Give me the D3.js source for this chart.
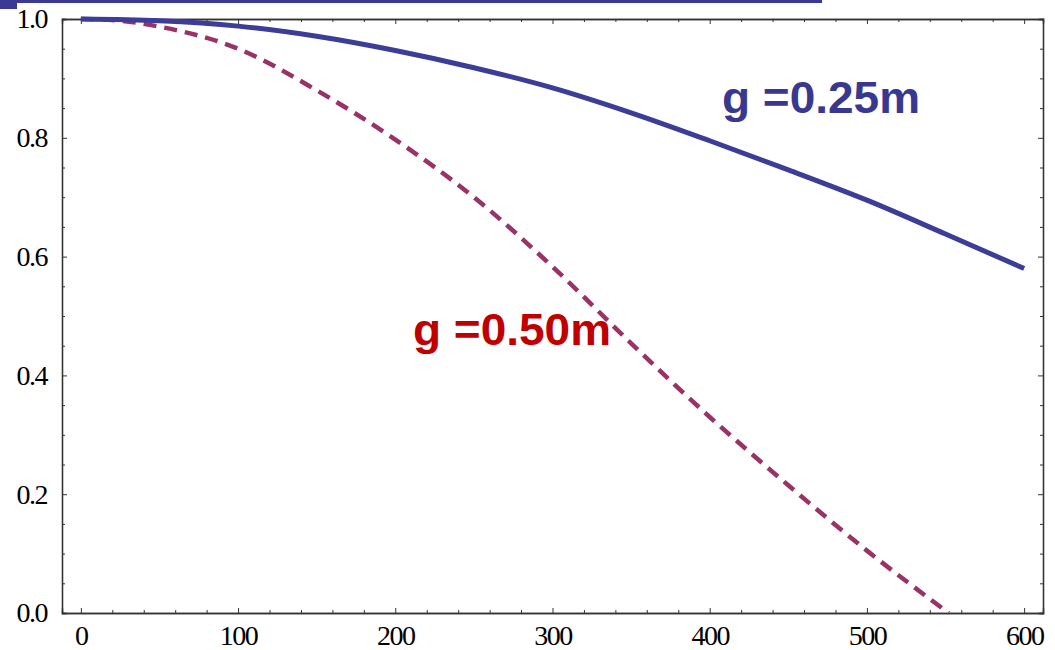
<!DOCTYPE html>
<html>
<head>
<meta charset="utf-8">
<script src="https://cdn.jsdelivr.net/npm/d3@7"></script>
<style>
  body { margin: 0; background: #fff; }
  svg { display: block; }
</style>
</head>
<body>
<div class="chart"></div>
<script>
const xs25 = [0, 50, 100, 150, 200, 250, 300, 350, 400, 450, 500, 550, 600]
const g25  = [1.0, 0.997, 0.988, 0.971, 0.947, 0.918, 0.884, 0.842, 0.795, 0.746, 0.695, 0.638, 0.58]
const xs50 = [0, 25, 50, 100, 150, 200, 250, 300, 350, 400, 450, 500, 552]
const g50  = [1.0, 0.997, 0.987, 0.95, 0.88, 0.797, 0.70, 0.583, 0.454, 0.33, 0.215, 0.105, 0.0]
const xMajor = [0, 100, 200, 300, 400, 500, 600]
const yMajor = [0, 0.2, 0.4, 0.6, 0.8, 1.0]
const labels = [
  { text: 'g =0.25m', x: 722, y: 113, color: '#383890' },
  { text: 'g =0.50m', x: 413, y: 345, color: '#c00000' }
]

const W = 1055, H = 650
const svg = d3.select('.chart').append('svg')
  .attr('width', W)
  .attr('height', H)

const x = d3.scaleLinear().domain([-12, 612]).range([62, 1043])
const y = d3.scaleLinear().domain([0, 1]).range([613, 19])

// slide decoration at the top
svg.append('rect').attr('x', 0).attr('y', 0).attr('width', 822).attr('height', 3).attr('fill', '#3a3a96')
svg.append('rect').attr('x', 0).attr('y', 0).attr('width', 17).attr('height', 9).attr('fill', '#3a3a96')

const xMinor = d3.range(0, 601, 20).filter(v => v % 100 !== 0)
const yMinor = d3.range(0, 1.001, 0.05).filter(v => Math.abs(v * 5 - Math.round(v * 5)) > 1e-6)

function styleAxis(g) {
  g.select('.domain').attr('stroke', '#333').attr('stroke-width', 1.3)
  g.selectAll('.tick line').attr('stroke', '#333').attr('stroke-width', 1)
  g.selectAll('text')
    .attr('font-family', '"Liberation Serif", "DejaVu Serif", serif')
    .attr('font-size', 28)
    .attr('letter-spacing', '-1.5px')
    .attr('fill', '#000')
}

// bottom
svg.append('g').attr('transform', `translate(0,${y(0)})`)
  .call(d3.axisBottom(x).tickValues(xMajor).tickSize(-5).tickPadding(12).tickFormat(d3.format('d')))
  .call(styleAxis)
svg.append('g').attr('transform', `translate(0,${y(0)})`)
  .call(d3.axisBottom(x).tickValues(xMinor).tickSize(-3).tickFormat(''))
  .call(styleAxis)
// top
svg.append('g').attr('transform', `translate(0,${y(1)})`)
  .call(d3.axisTop(x).tickValues(xMajor).tickSize(-5).tickFormat(''))
  .call(styleAxis)
svg.append('g').attr('transform', `translate(0,${y(1)})`)
  .call(d3.axisTop(x).tickValues(xMinor).tickSize(-3).tickFormat(''))
  .call(styleAxis)
// left
svg.append('g').attr('transform', `translate(${x(-12)},0)`)
  .call(d3.axisLeft(y).tickValues(yMajor).tickSize(-5).tickPadding(15).tickFormat(d3.format('.1f')))
  .call(styleAxis)
svg.append('g').attr('transform', `translate(${x(-12)},0)`)
  .call(d3.axisLeft(y).tickValues(yMinor).tickSize(-3).tickFormat(''))
  .call(styleAxis)
// right
svg.append('g').attr('transform', `translate(${x(612)},0)`)
  .call(d3.axisRight(y).tickValues(yMajor).tickSize(-5).tickFormat(''))
  .call(styleAxis)
svg.append('g').attr('transform', `translate(${x(612)},0)`)
  .call(d3.axisRight(y).tickValues(yMinor).tickSize(-3).tickFormat(''))
  .call(styleAxis)

const line = d3.line()
  .x(d => x(d[0]))
  .y(d => y(d[1]))
  .curve(d3.curveMonotoneX)

svg.append('path')
  .datum(xs50.map((v, i) => [v, g50[i]]))
  .attr('d', line)
  .attr('fill', 'none')
  .attr('stroke', '#993366')
  .attr('stroke-width', 4.5)
  .attr('stroke-dasharray', '13,8')

svg.append('path')
  .datum(xs25.map((v, i) => [v, g25[i]]))
  .attr('d', line)
  .attr('fill', 'none')
  .attr('stroke', '#3c3c99')
  .attr('stroke-width', 5)

svg.selectAll('.lbl')
  .data(labels)
  .enter()
  .append('text')
  .attr('class', 'lbl')
  .attr('x', d => d.x)
  .attr('y', d => d.y)
  .attr('fill', d => d.color)
  .attr('font-family', '"Liberation Sans", Arial, sans-serif')
  .attr('font-weight', 'bold')
  .attr('font-size', 44)
  .attr('textLength', 198)
  .attr('lengthAdjust', 'spacingAndGlyphs')
  .text(d => d.text)
</script>
</body>
</html>
